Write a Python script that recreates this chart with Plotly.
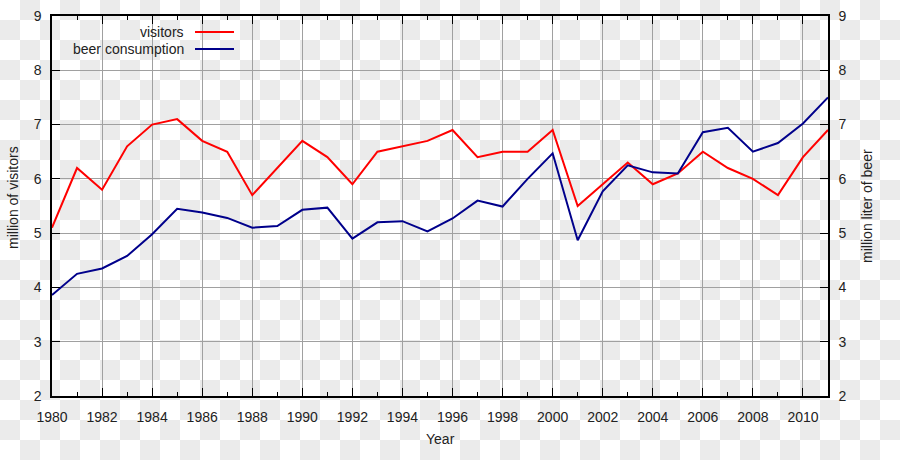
import plotly.graph_objects as go

years = list(range(1980, 2012))
visitors = [5.1, 6.2, 5.8, 6.6, 7.0, 7.1, 6.7, 6.5, 5.7, 6.2,
            6.7, 6.4, 5.9, 6.5, 6.6, 6.7, 6.9, 6.4, 6.5, 6.5,
            6.9, 5.5, 5.9, 6.3, 5.9, 6.1, 6.5, 6.2, 6.0, 5.7,
            6.4, 6.9]
beer = [3.86, 4.25, 4.35, 4.58, 4.98, 5.45, 5.38, 5.28, 5.10, 5.13,
        5.43, 5.47, 4.90, 5.20, 5.22, 5.03, 5.27, 5.60, 5.49, 6.00,
        6.47, 4.87, 5.77, 6.25, 6.12, 6.10, 6.86, 6.94, 6.50, 6.66,
        7.02, 7.50]
series_names = ["visitors", "beer consumption"]
series_colors = ["#ff0000", "#00008b"]

W, H = 900, 460
ML, MR, MT, MB = 52, 72, 16, 64
PW, PH = W - ML - MR, H - MT - MB


def px_x(px):
    return (px - ML) / PW


def px_y(py):
    return (H - MB - py) / PH


font = dict(family="Liberation Sans, Arial, sans-serif", size=14, color="#222222")

fig = go.Figure()
fig.add_trace(go.Scatter(x=years, y=visitors, mode="lines", name=series_names[0],
                         line=dict(color=series_colors[0], width=2)))
fig.add_trace(go.Scatter(x=years, y=beer, mode="lines", name=series_names[1],
                         line=dict(color=series_colors[1], width=2), yaxis="y2"))

shapes = []
# checkerboard (transparency) background
for row in range(H // 20 + 1):
    for col in range(W // 20 + 1):
        if (row + col) % 2 == 1:
            shapes.append(dict(type="rect", xref="paper", yref="paper",
                               x0=px_x(col * 20), x1=px_x(col * 20 + 20),
                               y0=px_y(row * 20 + 20), y1=px_y(row * 20),
                               fillcolor="#ebebeb", line=dict(width=0), layer="below"))

annotations = []
# legend (gnuplot style: text right-aligned, sample line to the right)
for i, (nm, col) in enumerate(zip(series_names, series_colors)):
    yy = 32 + i * 17
    annotations.append(dict(text=nm, xref="paper", yref="paper", x=px_x(186), y=px_y(yy),
                            xanchor="right", yanchor="middle", showarrow=False, font=font))
    shapes.append(dict(type="line", xref="paper", yref="paper", x0=px_x(195), x1=px_x(234),
                       y0=px_y(yy), y1=px_y(yy), line=dict(color=col, width=2), layer="above"))

annotations.append(dict(text="million of visitors", xref="paper", yref="paper", x=px_x(13),
                        y=px_y(198), textangle=-90, showarrow=False, font=font,
                        xanchor="center", yanchor="middle"))
annotations.append(dict(text="million liter of beer", xref="paper", yref="paper", x=px_x(867),
                        y=px_y(206), textangle=-90, showarrow=False, font=font,
                        xanchor="center", yanchor="middle"))
annotations.append(dict(text="Year", xref="paper", yref="paper", x=px_x(440),
                        y=px_y(439), showarrow=False, font=font,
                        xanchor="center", yanchor="middle"))

fig.update_layout(
    template="none",
    width=W, height=H,
    margin=dict(l=ML, r=MR, t=MT, b=MB, pad=0, autoexpand=False),
    paper_bgcolor="white", plot_bgcolor="rgba(0,0,0,0)",
    showlegend=False, font=font,
    shapes=shapes, annotations=annotations,
    xaxis=dict(range=[1980, 2011], tick0=1980, dtick=2, ticks="inside", ticklen=8,
               tickcolor="black", tickwidth=1, showline=True, linecolor="black", linewidth=1.5,
               mirror="ticks", showgrid=True, gridcolor="#a0a0a0", gridwidth=1,
               zeroline=False, ticklabelstandoff=7, automargin=False,
               minor=dict(dtick=1, tick0=1980, ticks="inside", ticklen=4, tickcolor="black",
                          showgrid=False)),
    yaxis=dict(range=[2, 9], dtick=1, ticks="inside", ticklen=8, tickcolor="black",
               showline=True, linecolor="black", linewidth=1.5, showgrid=True,
               gridcolor="#a0a0a0", gridwidth=1, zeroline=False, ticklabelstandoff=6,
               automargin=False),
    yaxis2=dict(range=[2, 9], dtick=1, ticks="inside", ticklen=8, tickcolor="black",
                overlaying="y", side="right", showline=True, linecolor="black", linewidth=1.5,
                showgrid=False, zeroline=False, ticklabelstandoff=6, automargin=False),
)

post = ("document.body.style.margin='0';document.body.style.overflow='hidden';"
        "var gd=document.getElementById('{plot_id}');gd.style.position='absolute';"
        "gd.style.top='0px';gd.style.left='0px';")
fig.write_html("out.html", config={"displayModeBar": False}, post_script=post)
